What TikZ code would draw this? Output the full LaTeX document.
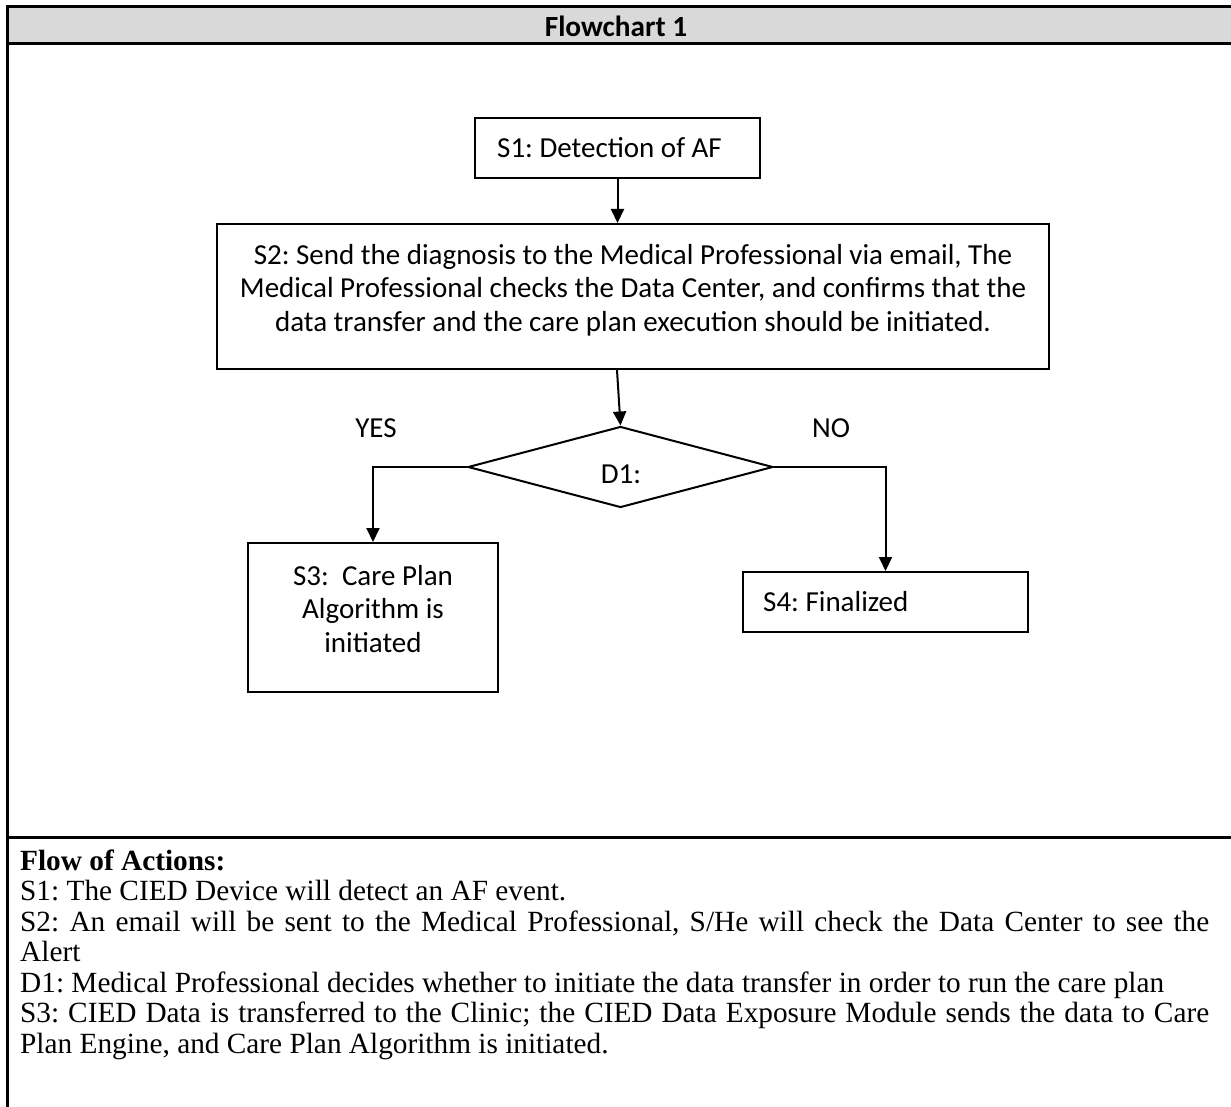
\documentclass[tikz,border=0pt]{standalone}
\usepackage{fontspec}
\setmainfont{Liberation Serif}
\newfontfamily\calib{Carlito}
\usetikzlibrary{arrows.meta,shapes.geometric}

\definecolor{headgray}{HTML}{D9D9D9}

\tikzset{
  frame/.style={line width=3pt, line cap=rect},
  box/.style={draw, line width=2pt, inner sep=0pt},
  flowtext/.style={font=\calib\fontsize{29}{33.5}\selectfont},
  arr/.style={line width=2pt, -{Triangle[length=14pt,width=13pt]}},
}

\begin{document}
\frenchspacing
\begin{tikzpicture}[x=1pt,y=-1pt]
\useasboundingbox (0,0) rectangle (1231,1107);

% table frame and title band
\fill[headgray] (7,7) rectangle (1231,44);
\draw[frame] (1231,7) -- (7,7) -- (7,1107);
\draw[frame] (7,44) -- (1231,44);
\draw[frame] (7,837) -- (1231,837);
\node[font=\calib\bfseries\fontsize{29.3}{33.5}\selectfont] (title) at (616,26) {Flowchart 1};

% flowchart boxes
\node[box, minimum width=285pt, minimum height=60pt] (s1) at (617.5,148) {};
\node[flowtext, anchor=west, inner sep=0pt] (s1text) at (497,148) {S1: Detection of AF};
\node[box, minimum width=832pt, minimum height=145pt] (s2) at (633,296.5) {};
\node[flowtext, align=center] (s2text) at (633,290)
  {S2: Send the diagnosis to the Medical Professional via email, The\\
   Medical Professional checks the Data Center, and confirms that the\\
   data transfer and the care plan execution should be initiated.};
\node[draw, diamond, line width=2pt, minimum width=305pt, minimum height=81pt, inner sep=0pt]
  (d1) at (620.5,467) {};
\node[flowtext] (d1text) at (621,474) {D1:};
\node[box, minimum width=250pt, minimum height=149pt] (s3) at (373,617.5) {};
\node[flowtext, align=center] (s3text) at (373,609)
  {S3:\ \ Care Plan\\ Algorithm is\\ initiated};
\node[box, minimum width=285pt, minimum height=60pt] (s4) at (885.5,602) {};
\node[flowtext, anchor=west, inner sep=0pt] (s4text) at (763,602) {S4: Finalized};

\node[flowtext] (yes) at (376,428) {YES};
\node[flowtext] (no) at (831,428) {NO};

% connectors
\draw[arr] (s1.south) -- (s1.south |- s2.north);
\draw[arr] ([xshift=-16pt]s2.south) -- (d1.north);
\draw[arr] (d1.west) -| (s3.north);
\draw[arr] (d1.east) -| (s4.north);

% description of the steps
\node[anchor=north west, inner sep=0pt, text width=1189pt, align=justify,
      font=\fontsize{29.3}{30.5}\selectfont] (actions) at (20,848.7)
  {\hyphenpenalty=10000 \exhyphenpenalty=10000 \tolerance=9999
   \strut\textbf{Flow of Actions:}\\
   S1: The CIED Device will detect an AF event.\\
   S2: An email will be sent to the Medical Professional, S/He will check the Data Center to see the\linebreak
   Alert\\
   D1: Medical Professional decides whether to initiate the data transfer in order to run the care plan\\
   S3: CIED Data is transferred to the Clinic; the CIED Data Exposure Module sends the data to Care\linebreak
   Plan Engine, and Care Plan Algorithm is initiated.};
\end{tikzpicture}
\end{document}
